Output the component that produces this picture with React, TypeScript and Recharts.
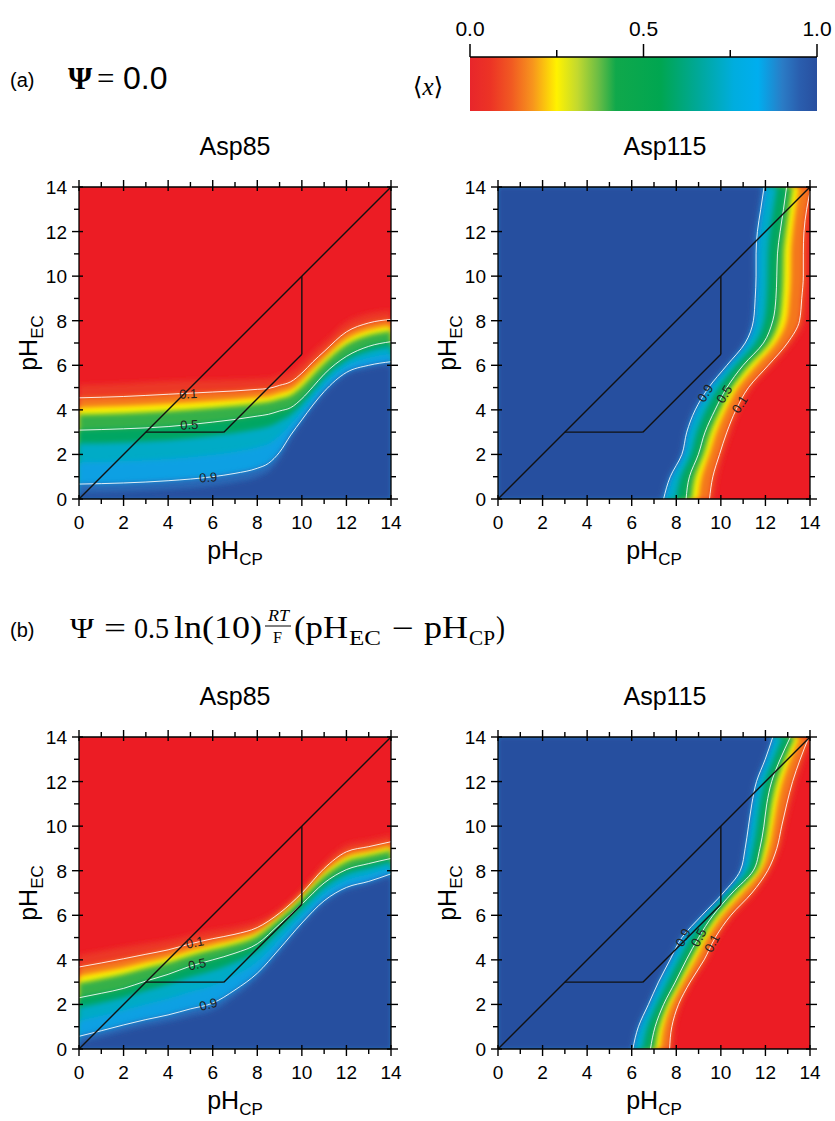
import React from 'react';
import {
  ComposedChart,
  Area,
  Line,
  XAxis,
  YAxis,
  CartesianGrid,
  ReferenceLine,
  ReferenceDot,
} from 'recharts';

// contour levels of <x> bounding the colour bands (0.1 / 0.5 / 0.9 are drawn and labelled)
const levelKeys = ['l03', 'l10', 'l20', 'l30', 'l50', 'l65', 'l80', 'l90', 'l97'];
const levelValues = [0.03, 0.1, 0.2, 0.3, 0.5, 0.65, 0.8, 0.9, 0.97];
const labelledKeys = ['l10', 'l50', 'l90'];

const phTicks = [0, 1, 2, 3, 4, 5, 6, 7, 8, 9, 10, 11, 12, 13, 14];
const cbarTicks = [0, 0.25, 0.5, 0.75, 1];

const diagonal = [[0, 0], [14, 14]];
const pathway = [[3, 3], [6.5, 3], [10, 6.5], [10, 10]];

// (a) Asp85: pH_EC of each level along pH_CP
const a85X = [0, 2, 4, 6, 7, 8, 8.5, 9, 9.5, 10, 10.5, 11, 12, 13, 14];
const a85L03 = [5.12, 5.18, 5.28, 5.34, 5.36, 5.4, 5.42, 5.56, 5.72, 6.11, 6.61, 7.03, 7.94, 8.32, 8.46];
const a85L10 = [4.54, 4.6, 4.7, 4.8, 4.85, 4.92, 4.96, 5.1, 5.26, 5.65, 6.16, 6.62, 7.5, 7.9, 8.06];
const a85L20 = [4.1, 4.17, 4.27, 4.4, 4.47, 4.56, 4.61, 4.76, 4.91, 5.31, 5.82, 6.31, 7.17, 7.59, 7.76];
const a85L30 = [3.79, 3.85, 3.95, 4.1, 4.18, 4.3, 4.36, 4.5, 4.66, 5.05, 5.58, 6.09, 6.93, 7.35, 7.54];
const a85L50 = [3.09, 3.15, 3.25, 3.45, 3.57, 3.72, 3.8, 3.95, 4.1, 4.5, 5.04, 5.6, 6.4, 6.85, 7.06];
const a85L65 = [2.49, 2.54, 2.64, 2.84, 2.97, 3.14, 3.25, 3.49, 3.79, 4.26, 4.84, 5.41, 6.22, 6.64, 6.84];
const a85L80 = [1.64, 1.69, 1.79, 1.98, 2.12, 2.32, 2.48, 2.84, 3.36, 3.93, 4.55, 5.13, 5.97, 6.34, 6.52];
const a85L90 = [0.67, 0.72, 0.82, 1.0, 1.15, 1.38, 1.6, 2.1, 2.87, 3.55, 4.22, 4.82, 5.68, 6.0, 6.16];
const a85L97 = [0.26, 0.31, 0.41, 0.58, 0.74, 0.98, 1.23, 1.79, 2.66, 3.39, 4.08, 4.69, 5.56, 5.86, 6.01];

// (a) Asp115: pH_CP of each level along pH_EC
const a115Y = [0, 1, 2, 3, 4, 5, 6, 7, 8, 9, 10, 11, 12, 13, 14];
const a115L03 = [9.71, 9.86, 10.14, 10.48, 10.88, 11.44, 12.37, 13.22, 13.78, 13.87, 13.95, 13.94, 13.95, 14.07, 14.28];
const a115L10 = [9.49, 9.64, 9.94, 10.27, 10.68, 11.24, 12.13, 12.99, 13.53, 13.63, 13.7, 13.7, 13.73, 13.85, 14.05];
const a115L20 = [8.99, 9.14, 9.48, 9.8, 10.23, 10.77, 11.59, 12.47, 12.95, 13.07, 13.13, 13.14, 13.22, 13.35, 13.52];
const a115L30 = [8.7, 8.85, 9.23, 9.54, 9.98, 10.51, 11.28, 12.18, 12.63, 12.76, 12.81, 12.83, 12.93, 13.07, 13.23];
const a115L50 = [8.44, 8.59, 8.99, 9.29, 9.74, 10.27, 11.0, 11.91, 12.33, 12.47, 12.51, 12.54, 12.66, 12.81, 12.95];
const a115L65 = [8.0, 8.21, 8.66, 8.93, 9.35, 9.91, 10.68, 11.55, 11.95, 12.06, 12.1, 12.12, 12.21, 12.36, 12.51];
const a115L80 = [7.6, 7.88, 8.38, 8.61, 9.0, 9.59, 10.39, 11.23, 11.61, 11.7, 11.74, 11.74, 11.81, 11.96, 12.11];
const a115L90 = [7.43, 7.73, 8.25, 8.47, 8.85, 9.45, 10.27, 11.09, 11.46, 11.54, 11.58, 11.58, 11.64, 11.79, 11.94];
const a115L97 = [7.31, 7.63, 8.16, 8.37, 8.74, 9.35, 10.18, 10.99, 11.36, 11.43, 11.47, 11.46, 11.52, 11.67, 11.82];

// (b) Asp85
const b85X = [0, 1, 2, 3, 4, 5, 6, 7, 8, 9, 10, 11, 12, 13, 14];
const b85L03 = [4.23, 4.4, 4.58, 4.73, 4.89, 5.12, 5.33, 5.49, 5.74, 6.3, 7.2, 8.36, 9.17, 9.38, 9.6];
const b85L10 = [3.68, 3.86, 4.05, 4.25, 4.45, 4.72, 4.95, 5.15, 5.45, 6.1, 7.0, 8.1, 8.85, 9.08, 9.3];
const b85L20 = [3.27, 3.45, 3.65, 3.89, 4.12, 4.42, 4.67, 4.9, 5.23, 5.95, 6.85, 7.91, 8.61, 8.85, 9.08];
const b85L30 = [2.96, 3.15, 3.36, 3.63, 3.88, 4.2, 4.46, 4.71, 5.07, 5.84, 6.74, 7.76, 8.43, 8.68, 8.91];
const b85L50 = [2.3, 2.5, 2.72, 3.05, 3.35, 3.72, 4.0, 4.3, 4.72, 5.6, 6.5, 7.45, 8.05, 8.32, 8.55];
const b85L65 = [1.87, 2.08, 2.31, 2.62, 2.9, 3.24, 3.52, 3.89, 4.39, 5.33, 6.29, 7.25, 7.85, 8.12, 8.38];
const b85L80 = [1.26, 1.49, 1.74, 2.01, 2.26, 2.57, 2.84, 3.31, 3.93, 4.94, 5.99, 6.97, 7.57, 7.84, 8.14];
const b85L90 = [0.57, 0.82, 1.08, 1.32, 1.53, 1.8, 2.06, 2.65, 3.4, 4.5, 5.65, 6.65, 7.25, 7.52, 7.86];
const b85L97 = [0.28, 0.53, 0.8, 1.03, 1.22, 1.47, 1.73, 2.37, 3.18, 4.31, 5.51, 6.51, 7.11, 7.38, 7.74];

// (b) Asp115
const b115Y = [0, 1, 2, 3, 4, 5, 6, 7, 8, 9, 10, 11, 12, 13, 14];
const b115L03 = [7.88, 7.96, 8.24, 8.76, 9.42, 9.91, 10.62, 11.58, 12.24, 12.67, 12.9, 13.15, 13.42, 13.75, 14.12];
const b115L10 = [7.7, 7.8, 8.1, 8.62, 9.25, 9.75, 10.45, 11.39, 12.1, 12.51, 12.73, 12.96, 13.22, 13.56, 13.95];
const b115L20 = [7.29, 7.44, 7.78, 8.3, 8.87, 9.39, 10.07, 10.96, 11.79, 12.15, 12.35, 12.53, 12.77, 13.13, 13.55];
const b115L30 = [7.06, 7.24, 7.6, 8.12, 8.65, 9.19, 9.85, 10.72, 11.61, 11.94, 12.13, 12.29, 12.52, 12.89, 13.33];
const b115L50 = [6.84, 7.05, 7.43, 7.95, 8.45, 9.0, 9.65, 10.5, 11.45, 11.75, 11.93, 12.06, 12.28, 12.66, 13.12];
const b115L65 = [6.49, 6.72, 7.13, 7.62, 8.13, 8.67, 9.43, 10.32, 11.19, 11.46, 11.63, 11.77, 11.98, 12.37, 12.77];
const b115L80 = [6.18, 6.43, 6.87, 7.33, 7.84, 8.38, 9.24, 10.17, 10.97, 11.2, 11.36, 11.5, 11.72, 12.1, 12.46];
const b115L90 = [6.05, 6.3, 6.75, 7.2, 7.72, 8.25, 9.15, 10.1, 10.87, 11.09, 11.24, 11.39, 11.6, 11.99, 12.33];
const b115L97 = [5.96, 6.21, 6.67, 7.11, 7.63, 8.16, 9.09, 10.05, 10.8, 11.01, 11.16, 11.31, 11.52, 11.91, 12.24];

// contour labels: [text, pH_CP, pH_EC, rotation]
const a85Labels: [string, number, number, number][] = [['0.1', 4.9, 4.72, -3], ['0.5', 4.95, 3.33, -3], ['0.9', 5.8, 0.97, -4]];
const a115Labels: [string, number, number, number][] = [['0.9', 9.3, 4.75, -58], ['0.5', 10.15, 4.7, -58], ['0.1', 10.85, 4.25, -58]];
const b85Labels: [string, number, number, number][] = [['0.1', 5.2, 4.78, -12], ['0.5', 5.3, 3.8, -12], ['0.9', 5.8, 2.0, -15]];
const b115Labels: [string, number, number, number][] = [['0.9', 8.3, 5.0, -62], ['0.5', 9.0, 5.0, -62], ['0.1', 9.6, 4.75, -62]];

const RED = '#ec1c24';
const BLUE = '#25509f';
const SANS = "'Liberation Sans', Arial, Helvetica, sans-serif";
const SERIF = "'Liberation Serif', 'DejaVu Serif', serif";

const cmapStops: [number, string][] = [
  [0.0, '#e8262b'],
  [0.06, '#ec3425'],
  [0.12, '#f15a22'],
  [0.18, '#f7941d'],
  [0.25, '#fff200'],
  [0.31, '#c2d92f'],
  [0.37, '#6abd45'],
  [0.42, '#10a84b'],
  [0.55, '#00a651'],
  [0.66, '#00a89a'],
  [0.76, '#00adde'],
  [0.83, '#00aeef'],
  [0.9, '#2a7cc6'],
  [0.95, '#2a5eae'],
  [1.0, '#284f9f'],
];

function hexRgb(h: string) {
  const n = parseInt(h.slice(1), 16);
  return [(n >> 16) & 255, (n >> 8) & 255, n & 255];
}

function cmap(v: number) {
  for (let i = 0; i < cmapStops.length - 1; i++) {
    const [a, ca] = cmapStops[i];
    const [b, cb] = cmapStops[i + 1];
    if (v >= a && v <= b) {
      const t = (v - a) / (b - a);
      const p = hexRgb(ca);
      const q = hexRgb(cb);
      return `rgb(${p.map((c, k) => Math.round(c + (q[k] - c) * t)).join(',')})`;
    }
  }
  return cmapStops[cmapStops.length - 1][1];
}

// fill below/left of each level curve = colour of the band up to the next level
const bandFills = levelValues.map((lv, i) =>
  i === levelValues.length - 1 ? BLUE : cmap((lv + levelValues[i + 1]) / 2)
);

function buildRows(key: string, coord: number[], curves: number[][]) {
  return coord.map((c, i) => {
    const row: Record<string, number> = { [key]: c };
    levelKeys.forEach((k, j) => {
      row[k] = curves[j][i];
    });
    return row;
  });
}

function segmentsOf(pts: number[][]) {
  const out = [];
  for (let i = 0; i < pts.length - 1; i++) {
    out.push([{ x: pts[i][0], y: pts[i][1] }, { x: pts[i + 1][0], y: pts[i + 1][1] }]);
  }
  return out;
}
const frameSegments = [...segmentsOf(diagonal), ...segmentsOf(pathway)];

const frameTick = (side: string, withLabel: boolean) => (p: any) => {
  const { x, y, payload } = p;
  const v = payload.value;
  const major = v % 2 === 0;
  const inn = major ? 4 : 0;
  const out = major ? 7 : 5;
  let l = [x, y, x, y];
  let label = null;
  if (side === 'bottom') {
    l = [x, y - inn, x, y + out];
    if (withLabel && major)
      label = (
        <text x={x} y={y + 30} textAnchor="middle" fontSize={19} fontFamily={SANS} fill="#000">
          {v}
        </text>
      );
  } else if (side === 'top') {
    l = [x, y + inn, x, y - out];
  } else if (side === 'left') {
    l = [x + inn, y, x - out, y];
    if (withLabel && major)
      label = (
        <text x={x - 12} y={y + 7} textAnchor="end" fontSize={19} fontFamily={SANS} fill="#000">
          {v}
        </text>
      );
  } else {
    l = [x - inn, y, x + out, y];
  }
  return (
    <g>
      <line x1={l[0]} y1={l[1]} x2={l[2]} y2={l[3]} stroke="#000" strokeWidth={1.4} />
      {label}
    </g>
  );
};

const cbarTick = (p: any) => {
  const { x, y, payload } = p;
  const v = payload.value;
  const major = v === 0 || v === 0.5 || v === 1;
  return (
    <g>
      <line x1={x} y1={y} x2={x} y2={y - (major ? 13 : 7)} stroke="#000" strokeWidth={1.5} />
      {major && (
        <text x={x} y={y - 21} textAnchor="middle" fontSize={21} fontFamily={SANS} fill="#000">
          {v.toFixed(1)}
        </text>
      )}
    </g>
  );
};

type PanelDef = {
  id: string;
  left: number;
  top: number;
  width: number;
  margin: { top: number; right: number; bottom: number; left: number };
  vertical: boolean;
  rows: Record<string, number>[];
  labels: [string, number, number, number][];
  title: string;
  titleX: number;
};

// axis sizes (bottom 30, top 10, left 40, right 10) are added to these margins
const AX = { bottom: 30, top: 10, left: 40, right: 10 };
const marginL = { top: 37, right: 19, bottom: 31, left: 39 };
const marginR = { top: 37, right: 15, bottom: 31, left: 38 };
const CH = 420;

const panels: PanelDef[] = [
  {
    id: 'a85', left: 0, top: 140, width: 420, margin: marginL, vertical: false, title: 'Asp85', titleX: 235,
    rows: buildRows('x', a85X, [a85L03, a85L10, a85L20, a85L30, a85L50, a85L65, a85L80, a85L90, a85L97]),
    labels: a85Labels,
  },
  {
    id: 'a115', left: 420, top: 140, width: 415, margin: marginR, vertical: true, title: 'Asp115', titleX: 665,
    rows: buildRows('y', a115Y, [a115L03, a115L10, a115L20, a115L30, a115L50, a115L65, a115L80, a115L90, a115L97]),
    labels: a115Labels,
  },
  {
    id: 'b85', left: 0, top: 690, width: 420, margin: marginL, vertical: false, title: 'Asp85', titleX: 235,
    rows: buildRows('x', b85X, [b85L03, b85L10, b85L20, b85L30, b85L50, b85L65, b85L80, b85L90, b85L97]),
    labels: b85Labels,
  },
  {
    id: 'b115', left: 420, top: 690, width: 415, margin: marginR, vertical: true, title: 'Asp115', titleX: 665,
    rows: buildRows('y', b115Y, [b115L03, b115L10, b115L20, b115L30, b115L50, b115L65, b115L80, b115L90, b115L97]),
    labels: b115Labels,
  },
];

function plotBox(d: PanelDef) {
  const l = d.margin.left + AX.left;
  const t = d.margin.top + AX.top;
  const w = d.width - l - d.margin.right - AX.right;
  const h = CH - t - d.margin.bottom - AX.bottom;
  return { l, t, w, h };
}

function Panel({ d }: { d: PanelDef }) {
  const axisLine = { stroke: '#000', strokeWidth: 1.3 };
  const box = plotBox(d);
  const common = {
    type: 'number' as const,
    domain: [0, 14],
    ticks: phTicks,
    interval: 0 as const,
    allowDataOverflow: true,
    tickSize: 0,
    tickMargin: 0,
    tickLine: false,
    axisLine,
  };
  const fid = `soft-${d.id}`;
  return (
    <div style={{ position: 'absolute', left: d.left, top: d.top }}>
      <ComposedChart
        width={d.width}
        height={CH}
        data={d.rows}
        layout={d.vertical ? 'vertical' : 'horizontal'}
        margin={d.margin}
      >
        <defs>
          <filter id={fid} filterUnits="userSpaceOnUse" x={box.l} y={box.t} width={box.w} height={box.h}>
            <feGaussianBlur stdDeviation={2.6} edgeMode="duplicate" />
          </filter>
        </defs>
        <CartesianGrid horizontal={false} vertical={false} fill={RED} fillOpacity={1} />
        <XAxis {...common} dataKey={d.vertical ? undefined : 'x'} height={AX.bottom} tick={frameTick('bottom', true)} />
        <XAxis {...common} xAxisId="top" orientation="top" dataKey={d.vertical ? undefined : 'x'} height={AX.top} tick={frameTick('top', false)} />
        <YAxis {...common} dataKey={d.vertical ? 'y' : undefined} reversed={d.vertical} width={AX.left} tick={frameTick('left', true)} />
        <YAxis {...common} yAxisId="right" orientation="right" dataKey={d.vertical ? 'y' : undefined} reversed={d.vertical} width={AX.right} tick={frameTick('right', false)} />
        {levelKeys.map((k, i) => (
          <Area
            key={k}
            dataKey={k}
            type="monotone"
            stroke="none"
            fill={bandFills[i]}
            fillOpacity={1}
            filter={`url(#${fid})`}
            dot={false}
            activeDot={false}
            isAnimationActive={false}
          />
        ))}
        {labelledKeys.map((k) => (
          <Line
            key={'c' + k}
            dataKey={k}
            type="monotone"
            stroke="#ffffff"
            strokeOpacity={0.85}
            strokeWidth={1}
            dot={false}
            activeDot={false}
            isAnimationActive={false}
          />
        ))}
        {frameSegments.map((s, i) => (
          <ReferenceLine key={'s' + i} segment={s} stroke="#111" strokeWidth={1.4} />
        ))}
        {d.labels.map(([t, x, y, rot]) => (
          <ReferenceDot
            key={'lab' + t}
            x={x}
            y={y}
            r={0}
            shape={(p: any) => (
              <text
                x={p.cx}
                y={p.cy}
                transform={`rotate(${rot} ${p.cx} ${p.cy})`}
                textAnchor="middle"
                dominantBaseline="central"
                fontSize={13}
                fontFamily={SANS}
                fill="#1f1f1f"
              >
                {t}
              </text>
            )}
          />
        ))}
      </ComposedChart>
    </div>
  );
}

function ColorBar() {
  return (
    <div style={{ position: 'absolute', left: 430, top: 0 }}>
      <ComposedChart
        width={405}
        height={120}
        data={[{ v: 0 }, { v: 1 }]}
        margin={{ top: 27, right: 18, bottom: 9, left: 40 }}
      >
        <defs>
          <linearGradient id="cbarGrad" x1="0" y1="0" x2="1" y2="0">
            {cmapStops.map(([o, c]) => (
              <stop key={o} offset={o} stopColor={c} />
            ))}
          </linearGradient>
        </defs>
        <CartesianGrid horizontal={false} vertical={false} fill="url(#cbarGrad)" fillOpacity={1} />
        <XAxis
          type="number"
          dataKey="v"
          orientation="top"
          domain={[0, 1]}
          ticks={cbarTicks}
          interval={0}
          height={30}
          tickSize={0}
          tickMargin={0}
          tickLine={false}
          axisLine={{ stroke: '#000', strokeWidth: 1.5 }}
          tick={cbarTick}
        />
        <YAxis type="number" domain={[0, 1]} hide width={0} />
      </ComposedChart>
    </div>
  );
}

// a piece of the panel-(b) formula squeezed to the width it has in the figure
function Piece({ x, y, w, size, children, italic }: any) {
  return (
    <text
      x={x}
      y={y}
      fontSize={size}
      fontStyle={italic ? 'italic' : undefined}
      textLength={w}
      lengthAdjust="spacingAndGlyphs"
    >
      {children}
    </text>
  );
}

function Texts() {
  const pieces = panels.map((d) => {
    const b = plotBox(d);
    const pl = d.left + b.l;
    const pt = d.top + b.t;
    const cx = pl + b.w / 2;
    const cy = pt + b.h / 2;
    return (
      <g key={'t' + d.id}>
        <text x={d.titleX} y={pt - 32} textAnchor="middle" fontSize={25} fontFamily={SANS}>
          {d.title}
        </text>
        <text x={cx} y={pt + b.h + 60} textAnchor="middle" fontSize={25} fontFamily={SANS}>
          pH<tspan fontSize={17} dy={6}>CP</tspan>
        </text>
        <text
          x={pl - 42}
          y={cy}
          transform={`rotate(-90 ${pl - 42} ${cy})`}
          textAnchor="middle"
          fontSize={25}
          fontFamily={SANS}
        >
          pH<tspan fontSize={17} dy={6}>EC</tspan>
        </text>
      </g>
    );
  });
  return (
    <svg
      width={835}
      height={1121}
      style={{ position: 'absolute', left: 0, top: 0, pointerEvents: 'none' }}
    >
      <text x={10} y={87} fontSize={20} fontFamily={SANS}>(a)</text>
      <text x={68} y={89} fontSize={31} fontWeight="bold" fontFamily={SERIF}>Ψ</text>
      <text x={97} y={89} fontSize={31} fontFamily={SERIF}>=</text>
      <text x={123} y={89} fontSize={32} fontFamily={SANS}>0.0</text>
      <text x={428} y={95} textAnchor="middle" fontSize={25} fontFamily={SERIF}>
        ⟨<tspan fontStyle="italic">x</tspan>⟩
      </text>

      <text x={10} y={637} fontSize={20} fontFamily={SANS}>(b)</text>
      <g fontFamily={SERIF}>
        <Piece x={70} y={638} w={24} size={30}>Ψ</Piece>
        <Piece x={104} y={638} w={22} size={30}>=</Piece>
        <Piece x={134} y={638} w={35} size={30}>0.5</Piece>
        <Piece x={174} y={638} w={88} size={31}>ln(10)</Piece>
        <Piece x={268} y={621} w={21} size={16} italic>RT</Piece>
        <line x1={265} y1={626} x2={291} y2={626} stroke="#000" strokeWidth={1} />
        <Piece x={273} y={643} w={9} size={16}>F</Piece>
        <Piece x={294} y={638} w={54} size={31}>(pH</Piece>
        <Piece x={349} y={645} w={32} size={21}>EC</Piece>
        <Piece x={392} y={638} w={22} size={30}>−</Piece>
        <Piece x={424} y={638} w={44} size={31}>pH</Piece>
        <Piece x={469} y={645} w={26} size={21}>CP</Piece>
        <Piece x={496} y={638} w={9} size={31}>)</Piece>
      </g>
      {pieces}
    </svg>
  );
}

export default function App() {
  return (
    <div style={{ position: 'absolute', left: 0, top: 0, width: 835, height: 1121, background: '#fff' }}>
      <ColorBar />
      {panels.map((d) => (
        <Panel key={d.id} d={d} />
      ))}
      <Texts />
    </div>
  );
}
